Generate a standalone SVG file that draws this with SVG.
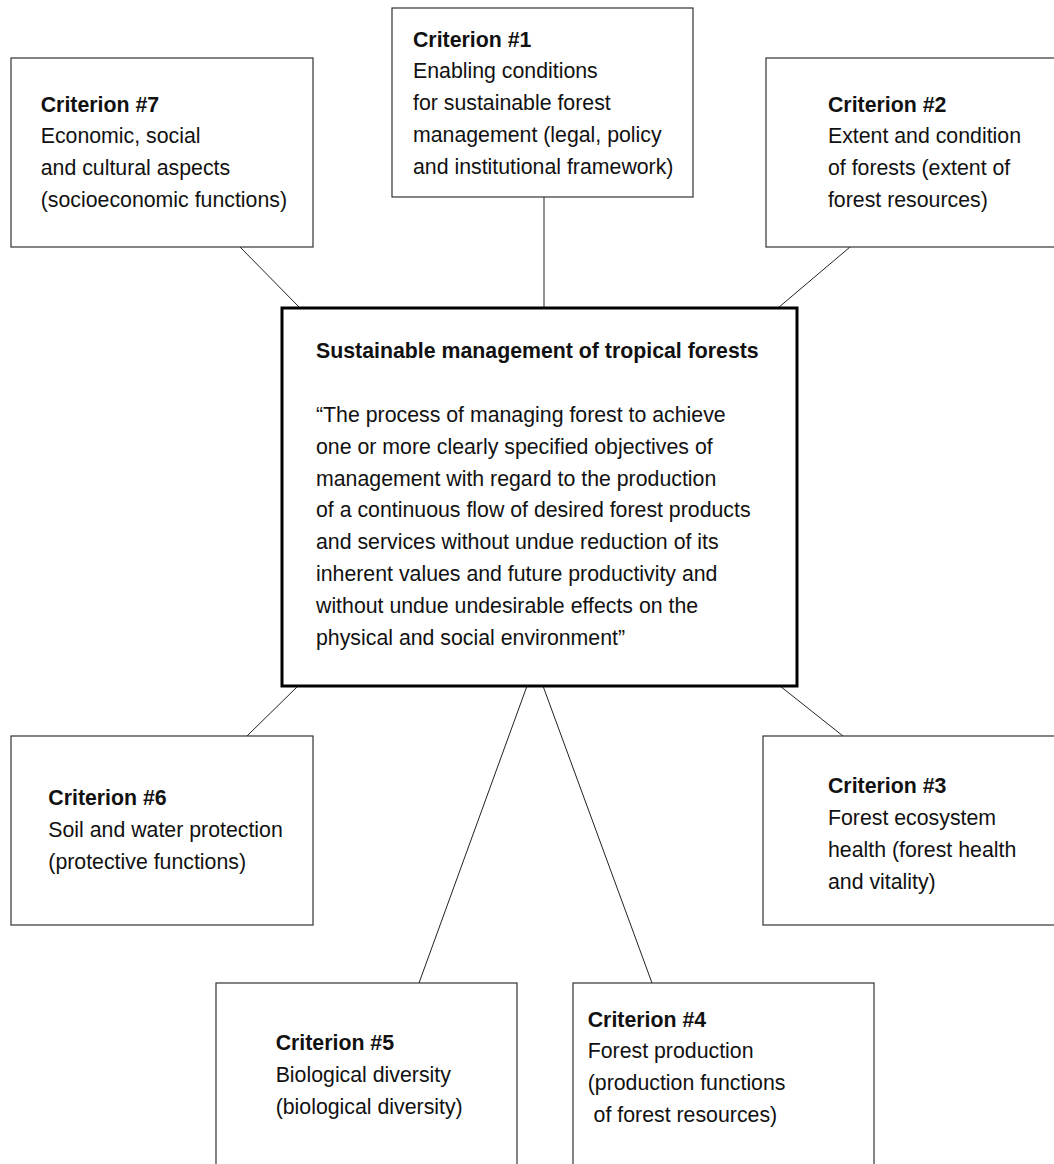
<svg xmlns="http://www.w3.org/2000/svg" width="1054" height="1164" viewBox="0 0 1054 1164">
<style>
.box{fill:#fff;stroke:#333;stroke-width:1.2}
.main{fill:#fff;stroke:#000;stroke-width:3}
.t{font-family:"Liberation Sans",Arial,sans-serif;font-size:22.5px;fill:#111}
.b{font-weight:bold}
.conn line{stroke:#222;stroke-width:1}
</style>
<rect width="1054" height="1164" fill="#fff"/>
<g id="connectors" class="conn">
<line x1="240" y1="247" x2="300" y2="308"/>
<line x1="544" y1="197" x2="544" y2="308"/>
<line x1="850" y1="247" x2="778" y2="308"/>
<line x1="247" y1="736" x2="298" y2="686"/>
<line x1="780" y1="686" x2="843" y2="736"/>
<line x1="527" y1="686" x2="419" y2="983"/>
<line x1="543" y1="686" x2="652" y2="983"/>
</g>
<g id="criterion1">
<rect class="box" x="392" y="8" width="301" height="189"/>
<text class="t" transform="scale(0.947,1)"><tspan class="b" x="436.1" y="46.7">Criterion #1</tspan><tspan x="436.1" y="78.5">Enabling conditions</tspan><tspan x="436.1" y="110.3">for sustainable forest</tspan><tspan x="436.1" y="142">management (legal, policy</tspan><tspan x="436.1" y="174">and institutional framework)</tspan></text>
</g>
<g id="criterion7">
<rect class="box" x="11" y="58" width="302" height="189"/>
<text class="t" transform="scale(0.947,1)"><tspan class="b" x="43" y="111.7">Criterion #7</tspan><tspan x="43" y="143.5">Economic, social</tspan><tspan x="43" y="175.3">and cultural aspects</tspan><tspan x="43" y="207">(socioeconomic functions)</tspan></text>
</g>
<g id="criterion2">
<rect class="box" x="766" y="58" width="300" height="189"/>
<text class="t" transform="scale(0.947,1)"><tspan class="b" x="874.3" y="111.7">Criterion #2</tspan><tspan x="874.3" y="143.5">Extent and condition</tspan><tspan x="874.3" y="175.3">of forests (extent of</tspan><tspan x="874.3" y="207">forest resources)</tspan></text>
</g>
<g id="center">
<rect class="main" x="282" y="308" width="515" height="378"/>
<text class="t" transform="scale(0.947,1)"><tspan class="b" x="333.7" y="358">Sustainable management of tropical forests</tspan><tspan x="333.7" y="422">“The process of managing forest to achieve</tspan><tspan x="333.7" y="453.8">one or more clearly specified objectives of</tspan><tspan x="333.7" y="485.6">management with regard to the production</tspan><tspan x="333.7" y="517.4">of a continuous flow of desired forest products</tspan><tspan x="333.7" y="549.2">and services without undue reduction of its</tspan><tspan x="333.7" y="581">inherent values and future productivity and</tspan><tspan x="333.7" y="612.8">without undue undesirable effects on the</tspan><tspan x="333.7" y="644.6">physical and social environment”</tspan></text>
</g>
<g id="criterion6">
<rect class="box" x="11" y="736" width="302" height="189"/>
<text class="t" transform="scale(0.947,1)"><tspan class="b" x="51" y="805">Criterion #6</tspan><tspan x="51" y="836.8">Soil and water protection</tspan><tspan x="51" y="868.6">(protective functions)</tspan></text>
</g>
<g id="criterion3">
<rect class="box" x="763" y="736" width="300" height="189"/>
<text class="t" transform="scale(0.947,1)"><tspan class="b" x="874.3" y="793.3">Criterion #3</tspan><tspan x="874.3" y="825">Forest ecosystem</tspan><tspan x="874.3" y="856.8">health (forest health</tspan><tspan x="874.3" y="888.6">and vitality)</tspan></text>
</g>
<g id="criterion5">
<rect class="box" x="216" y="983" width="301" height="200"/>
<text class="t" transform="scale(0.947,1)"><tspan class="b" x="291.1" y="1050">Criterion #5</tspan><tspan x="291.1" y="1081.8">Biological diversity</tspan><tspan x="291.1" y="1113.6">(biological diversity)</tspan></text>
</g>
<g id="criterion4">
<rect class="box" x="573" y="983" width="301" height="200"/>
<text class="t" transform="scale(0.947,1)"><tspan class="b" x="620.6" y="1026.7">Criterion #4</tspan><tspan x="620.6" y="1058.5">Forest production</tspan><tspan x="620.6" y="1090.3">(production functions</tspan><tspan x="620.6" y="1122"> of forest resources)</tspan></text>
</g>
</svg>
